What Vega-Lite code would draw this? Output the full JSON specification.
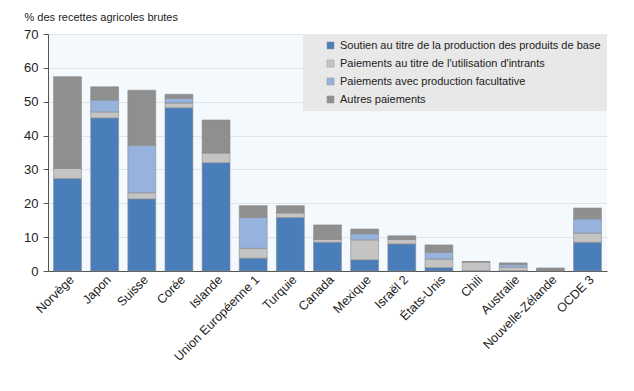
{
  "$schema": "https://vega.github.io/schema/vega-lite/v6.json",
  "width": 559,
  "height": 237,
  "autosize": "none",
  "padding": {"left": 48, "top": 34, "right": 27, "bottom": 120},
  "background": "white",
  "view": {"fill": "#f3f9fc", "stroke": null},
  "config": {
    "font": "Liberation Sans",
    "axis": {"labelFont": "Liberation Sans", "labelColor": "#222", "labelFontSize": 12}
  },
  "data": {
    "values": [
      {"pays": "Norvège", "type": "Soutien au titre de la production des produits de base", "ord": 1, "v": 27.3},
      {"pays": "Norvège", "type": "Paiements au titre de l'utilisation d'intrants", "ord": 2, "v": 3.1},
      {"pays": "Norvège", "type": "Paiements avec production facultative", "ord": 3, "v": 0.0},
      {"pays": "Norvège", "type": "Autres paiements", "ord": 4, "v": 27.0},
      {"pays": "Japon", "type": "Soutien au titre de la production des produits de base", "ord": 1, "v": 45.2},
      {"pays": "Japon", "type": "Paiements au titre de l'utilisation d'intrants", "ord": 2, "v": 1.8},
      {"pays": "Japon", "type": "Paiements avec production facultative", "ord": 3, "v": 3.5},
      {"pays": "Japon", "type": "Autres paiements", "ord": 4, "v": 3.9},
      {"pays": "Suisse", "type": "Soutien au titre de la production des produits de base", "ord": 1, "v": 21.3},
      {"pays": "Suisse", "type": "Paiements au titre de l'utilisation d'intrants", "ord": 2, "v": 1.8},
      {"pays": "Suisse", "type": "Paiements avec production facultative", "ord": 3, "v": 14.0},
      {"pays": "Suisse", "type": "Autres paiements", "ord": 4, "v": 16.3},
      {"pays": "Corée", "type": "Soutien au titre de la production des produits de base", "ord": 1, "v": 48.2},
      {"pays": "Corée", "type": "Paiements au titre de l'utilisation d'intrants", "ord": 2, "v": 1.4},
      {"pays": "Corée", "type": "Paiements avec production facultative", "ord": 3, "v": 1.4},
      {"pays": "Corée", "type": "Autres paiements", "ord": 4, "v": 1.2},
      {"pays": "Islande", "type": "Soutien au titre de la production des produits de base", "ord": 1, "v": 32.0},
      {"pays": "Islande", "type": "Paiements au titre de l'utilisation d'intrants", "ord": 2, "v": 2.9},
      {"pays": "Islande", "type": "Paiements avec production facultative", "ord": 3, "v": 0.0},
      {"pays": "Islande", "type": "Autres paiements", "ord": 4, "v": 9.7},
      {"pays": "Union Européenne 1", "type": "Soutien au titre de la production des produits de base", "ord": 1, "v": 3.8},
      {"pays": "Union Européenne 1", "type": "Paiements au titre de l'utilisation d'intrants", "ord": 2, "v": 2.9},
      {"pays": "Union Européenne 1", "type": "Paiements avec production facultative", "ord": 3, "v": 9.1},
      {"pays": "Union Européenne 1", "type": "Autres paiements", "ord": 4, "v": 3.5},
      {"pays": "Turquie", "type": "Soutien au titre de la production des produits de base", "ord": 1, "v": 15.8},
      {"pays": "Turquie", "type": "Paiements au titre de l'utilisation d'intrants", "ord": 2, "v": 1.4},
      {"pays": "Turquie", "type": "Paiements avec production facultative", "ord": 3, "v": 0.0},
      {"pays": "Turquie", "type": "Autres paiements", "ord": 4, "v": 2.1},
      {"pays": "Canada", "type": "Soutien au titre de la production des produits de base", "ord": 1, "v": 8.5},
      {"pays": "Canada", "type": "Paiements au titre de l'utilisation d'intrants", "ord": 2, "v": 0.9},
      {"pays": "Canada", "type": "Paiements avec production facultative", "ord": 3, "v": 0.0},
      {"pays": "Canada", "type": "Autres paiements", "ord": 4, "v": 4.2},
      {"pays": "Mexique", "type": "Soutien au titre de la production des produits de base", "ord": 1, "v": 3.3},
      {"pays": "Mexique", "type": "Paiements au titre de l'utilisation d'intrants", "ord": 2, "v": 5.9},
      {"pays": "Mexique", "type": "Paiements avec production facultative", "ord": 3, "v": 1.8},
      {"pays": "Mexique", "type": "Autres paiements", "ord": 4, "v": 1.4},
      {"pays": "Israël 2", "type": "Soutien au titre de la production des produits de base", "ord": 1, "v": 8.0},
      {"pays": "Israël 2", "type": "Paiements au titre de l'utilisation d'intrants", "ord": 2, "v": 1.4},
      {"pays": "Israël 2", "type": "Paiements avec production facultative", "ord": 3, "v": 0.0},
      {"pays": "Israël 2", "type": "Autres paiements", "ord": 4, "v": 1.0},
      {"pays": "États-Unis", "type": "Soutien au titre de la production des produits de base", "ord": 1, "v": 1.0},
      {"pays": "États-Unis", "type": "Paiements au titre de l'utilisation d'intrants", "ord": 2, "v": 2.5},
      {"pays": "États-Unis", "type": "Paiements avec production facultative", "ord": 3, "v": 2.0},
      {"pays": "États-Unis", "type": "Autres paiements", "ord": 4, "v": 2.2},
      {"pays": "Chili", "type": "Soutien au titre de la production des produits de base", "ord": 1, "v": 0.1},
      {"pays": "Chili", "type": "Paiements au titre de l'utilisation d'intrants", "ord": 2, "v": 2.6},
      {"pays": "Chili", "type": "Paiements avec production facultative", "ord": 3, "v": 0.0},
      {"pays": "Chili", "type": "Autres paiements", "ord": 4, "v": 0.1},
      {"pays": "Australie", "type": "Soutien au titre de la production des produits de base", "ord": 1, "v": 0.1},
      {"pays": "Australie", "type": "Paiements au titre de l'utilisation d'intrants", "ord": 2, "v": 1.0},
      {"pays": "Australie", "type": "Paiements avec production facultative", "ord": 3, "v": 0.8},
      {"pays": "Australie", "type": "Autres paiements", "ord": 4, "v": 0.5},
      {"pays": "Nouvelle-Zélande", "type": "Soutien au titre de la production des produits de base", "ord": 1, "v": 0.1},
      {"pays": "Nouvelle-Zélande", "type": "Paiements au titre de l'utilisation d'intrants", "ord": 2, "v": 0.1},
      {"pays": "Nouvelle-Zélande", "type": "Paiements avec production facultative", "ord": 3, "v": 0.0},
      {"pays": "Nouvelle-Zélande", "type": "Autres paiements", "ord": 4, "v": 0.7},
      {"pays": "OCDE 3", "type": "Soutien au titre de la production des produits de base", "ord": 1, "v": 8.5},
      {"pays": "OCDE 3", "type": "Paiements au titre de l'utilisation d'intrants", "ord": 2, "v": 2.7},
      {"pays": "OCDE 3", "type": "Paiements avec production facultative", "ord": 3, "v": 4.2},
      {"pays": "OCDE 3", "type": "Autres paiements", "ord": 4, "v": 3.2}
    ]
  },
  "mark": {"type": "bar", "stroke": "#8a8a8a", "strokeWidth": 0.6},
  "encoding": {
    "x": {
      "field": "pays",
      "type": "nominal",
      "sort": null,
      "scale": {"paddingInner": 0.25, "paddingOuter": 0.15},
      "axis": {
        "title": null,
        "labelAngle": -45,
        "labelAlign": "right",
        "labelBaseline": "top",
        "labelPadding": 2,
        "ticks": false,
        "domainColor": "#555",
        "labelFontSize": 12.5
      }
    },
    "y": {
      "field": "v",
      "type": "quantitative",
      "stack": "zero",
      "scale": {"domain": [0, 70], "nice": false},
      "axis": {
        "values": [0, 10, 20, 30, 40, 50, 60, 70],
        "title": "% des recettes agricoles brutes",
        "titleAngle": 0,
        "titleAlign": "left",
        "titleBaseline": "middle",
        "titleX": -24,
        "titleY": -17,
        "titleFontSize": 11,
        "titleFontWeight": "normal",
        "titleColor": "#222",
        "titleFont": "Liberation Sans",
        "gridColor": "#dfe6ea",
        "domainColor": "#555",
        "tickColor": "#555",
        "tickSize": 5,
        "labelPadding": 5,
        "labelFontSize": 13
      }
    },
    "color": {
      "field": "type",
      "type": "nominal",
      "scale": {
        "domain": [
          "Soutien au titre de la production des produits de base",
          "Paiements au titre de l'utilisation d'intrants",
          "Paiements avec production facultative",
          "Autres paiements"
        ],
        "range": ["#4a7ebb", "#c4c4c4", "#95b3dc", "#8f8f8f"]
      },
      "legend": {
        "title": null,
        "orient": "top-right",
        "offset": 0,
        "fillColor": "#e8e8e8",
        "padding": 6,
        "symbolOffset": 16,
        "symbolType": "square",
        "symbolSize": 50,
        "symbolStrokeColor": "#999",
        "symbolStrokeWidth": 0.5,
        "labelFontSize": 11,
        "labelColor": "#222",
        "labelFont": "Liberation Sans",
        "rowPadding": 6,
        "labelLimit": 400
      }
    },
    "order": {"field": "ord", "type": "quantitative"}
  }
}
